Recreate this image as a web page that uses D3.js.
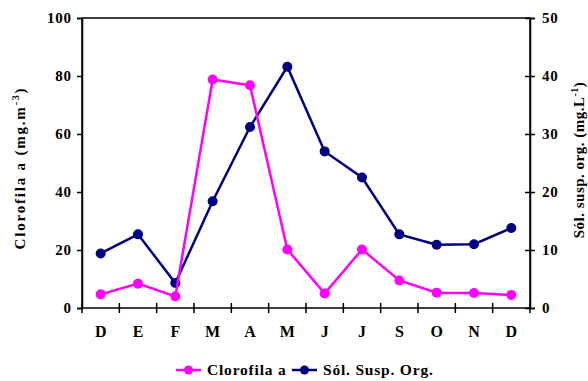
<!DOCTYPE html>
<html>
<head>
<meta charset="utf-8">
<script src="https://cdn.jsdelivr.net/npm/d3@7"></script>
<style>
  body { margin: 0; background: #fff; }
</style>
</head>
<body>
<div class="draw"></div>
<script>
// months (Dec .. Dec)
var months = ['D','E','F','M','A','M','J','J','S','O','N','D'];
// Clorofila a (mg.m-3), left axis
var clorofila = [4.7, 8.4, 4.0, 78.8, 76.8, 20.2, 5.0, 20.2, 9.5, 5.3, 5.2, 4.5];
// Sol. susp. org. (mg.L-1), right axis
var solidos = [9.4, 12.7, 4.3, 18.4, 31.2, 41.6, 27.0, 22.5, 12.7, 10.9, 11.0, 13.8];
var leftTicks = [0, 20, 40, 60, 80, 100];
var rightTicks = [0, 10, 20, 30, 40, 50];

var width = 588, height = 381;
var margin = {left: 82, right: 58, top: 18, bottom: 73};
var pinkColor = '#ff00ff', navyColor = '#000080';
var font = 'Liberation Serif';

var svg = d3.select('.draw').append('svg')
    .attr('width', width)
    .attr('height', height)
    .attr('font-family', font)
    .attr('font-weight', 'bold');

var x = d3.scaleBand()
    .domain(d3.range(months.length))
    .range([margin.left, width - margin.right]);

var yLeft = d3.scaleLinear()
    .domain([0, 100])
    .range([height - margin.bottom, margin.top]);

var yRight = d3.scaleLinear()
    .domain([0, 50])
    .range([height - margin.bottom, margin.top]);

var x0 = margin.left, x1 = width - margin.right;
var yb = height - margin.bottom;

// frame
svg.append('rect')
    .attr('x', x0).attr('y', margin.top)
    .attr('width', x1 - x0).attr('height', yb - margin.top)
    .attr('fill', 'none').attr('stroke', '#000').attr('stroke-width', 1.5);

// left axis
var gl = svg.append('g').attr('transform', 'translate(' + x0 + ',0)')
    .call(d3.axisLeft(yLeft).tickValues(leftTicks).tickSize(5).tickPadding(6));
// right axis (ticks cross the line)
var gr = svg.append('g').attr('transform', 'translate(' + x1 + ',0)')
    .call(d3.axisRight(yRight).tickValues(rightTicks).tickSize(5).tickPadding(7));
gr.selectAll('.tick line').attr('x1', -5);

// bottom axis, ticks at category boundaries
var gb = svg.append('g').attr('transform', 'translate(0,' + yb + ')');
gb.selectAll('line.tk')
    .data(d3.range(months.length + 1))
    .enter().append('line')
    .attr('class', 'tk')
    .attr('x1', function (d) { return x0 + d * x.step(); })
    .attr('x2', function (d) { return x0 + d * x.step(); })
    .attr('y1', -5).attr('y2', 5)
    .attr('stroke', '#000').attr('stroke-width', 1.5);
gb.selectAll('text')
    .data(months)
    .enter().append('text')
    .attr('x', function (d, i) { return x(i) + x.bandwidth() / 2; })
    .attr('y', 29)
    .attr('text-anchor', 'middle')
    .attr('font-size', 16)
    .text(function (d) { return d; });

[gl, gr].forEach(function (g) {
    g.attr('font-family', font).attr('font-size', 15);
    g.select('.domain').attr('stroke-width', 1.5);
    g.selectAll('.tick line').attr('stroke-width', 1.5);
    g.selectAll('.tick text').attr('fill', '#000').attr('letter-spacing', 0.8);
});
gl.selectAll('.tick text').attr('dx', 0.8);

// axis titles
var tl = svg.append('text')
    .attr('transform', 'translate(25,168) rotate(-90)')
    .attr('text-anchor', 'middle')
    .attr('letter-spacing', 1.8)
    .attr('font-size', 15);
tl.append('tspan').text('Clorofila a (mg.m');
tl.append('tspan').attr('dy', -6).attr('font-size', 10).text('-3');
tl.append('tspan').attr('dy', 6).text(')');

var tr = svg.append('text')
    .attr('transform', 'translate(584,160) rotate(-90)')
    .attr('text-anchor', 'middle')
    .attr('letter-spacing', 0.5)
    .attr('font-size', 15);
tr.append('tspan').text('Sól. susp. org.  (mg.L');
tr.append('tspan').attr('dy', -6).attr('font-size', 10).text('-1');
tr.append('tspan').attr('dy', 6).text(')');

function cx(d, i) { return x(i) + x.bandwidth() / 2; }

var series = [
    {values: solidos, y: yRight, color: navyColor},
    {values: clorofila, y: yLeft, color: pinkColor}
];

series.forEach(function (s) {
    var line = d3.line()
        .x(function (d, i) { return cx(d, i); })
        .y(function (d) { return s.y(d); });
    svg.append('path')
        .datum(s.values)
        .attr('d', line)
        .attr('fill', 'none')
        .attr('stroke', s.color)
        .attr('stroke-width', 2.5);
    svg.selectAll(null)
        .data(s.values)
        .enter().append('circle')
        .attr('cx', cx)
        .attr('cy', function (d) { return s.y(d); })
        .attr('r', 5)
        .attr('fill', s.color);
});

// legend
var legend = [
    {name: 'Clorofila a', color: pinkColor, x: 176, tx: 207},
    {name: 'Sól. Susp. Org.', color: navyColor, x: 292, tx: 323}
];
var ly = 375;
legend.forEach(function (l) {
    svg.append('line')
        .attr('x1', l.x).attr('x2', l.x + 25)
        .attr('y1', ly - 5).attr('y2', ly - 5)
        .attr('stroke', l.color).attr('stroke-width', 2.5);
    svg.append('circle')
        .attr('cx', l.x + 12.5).attr('cy', ly - 5).attr('r', 4.5)
        .attr('fill', l.color);
    svg.append('text')
        .attr('x', l.tx).attr('y', ly)
        .attr('font-size', 15.5)
        .attr('letter-spacing', 0.8)
        .text(l.name);
});
</script>
</body>
</html>
